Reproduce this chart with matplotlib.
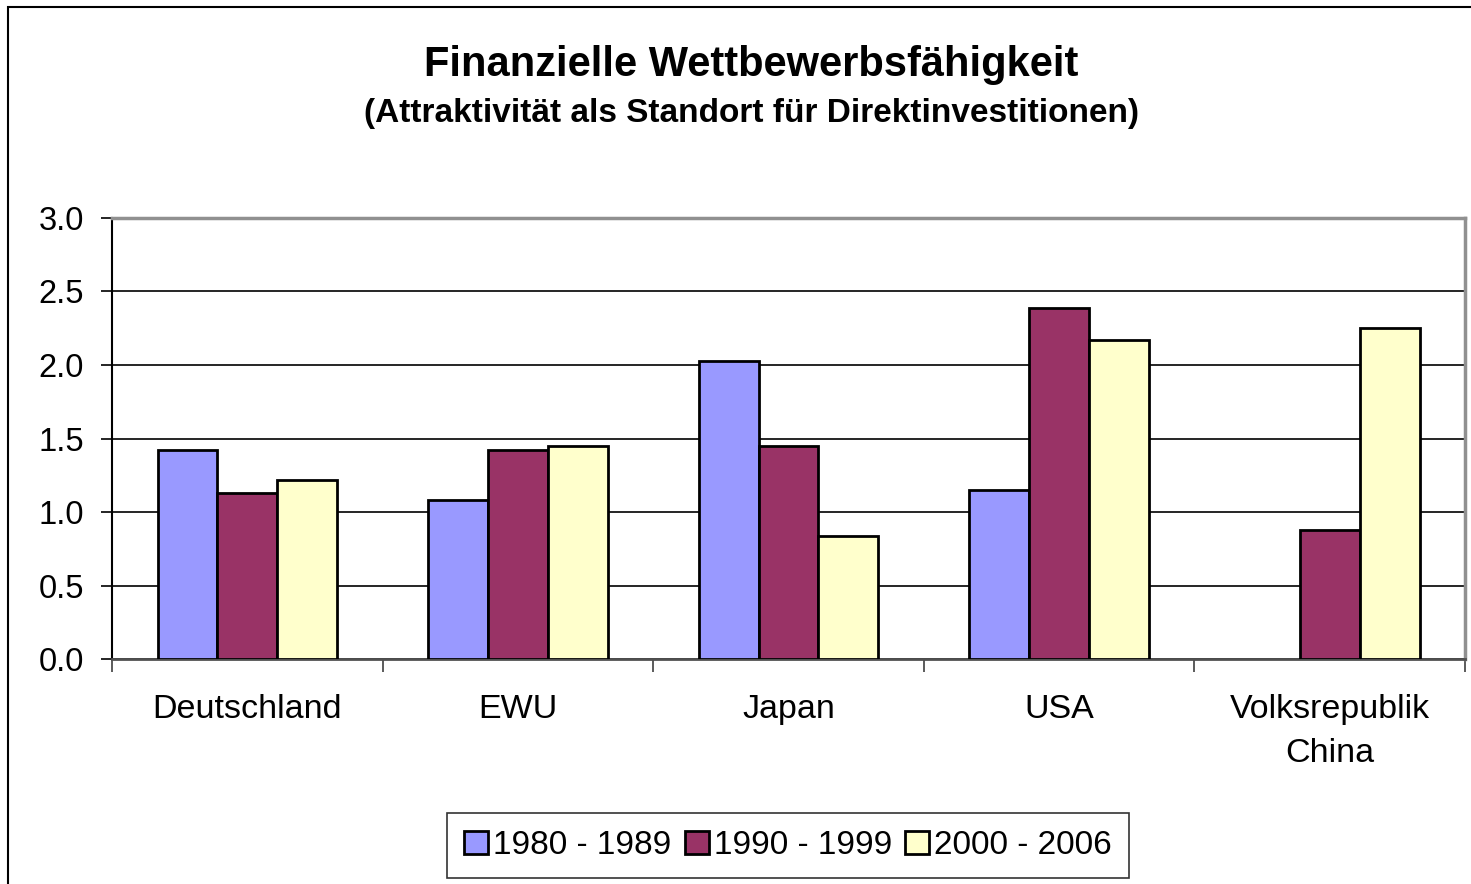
import matplotlib.pyplot as plt
from matplotlib.patches import Rectangle
import numpy as np

plt.rcParams['font.family'] = ['Liberation Sans', 'DejaVu Sans']

# data
countries = ['Deutschland', 'EWU', 'Japan', 'USA', 'Volksrepublik\nChina']
periods = ['1980 - 1989', '1990 - 1999', '2000 - 2006']
v_1980s = [1.42, 1.08, 2.03, 1.15, np.nan]
v_1990s = [1.13, 1.42, 1.45, 2.39, 0.88]
v_2000s = [1.22, 1.45, 0.84, 2.17, 2.25]
colors = ['#9999FF', '#993366', '#FFFFCC']

fig = plt.figure(figsize=(14.71, 8.84), dpi=100)
ax = fig.add_axes([0.0761, 0.2545, 0.9199, 0.4989])

x = np.arange(len(countries))
w = 0.221
for i, (vals, c, lab) in enumerate(zip([v_1980s, v_1990s, v_2000s], colors, periods)):
    ax.bar(x + (i - 1) * w, vals, w, color=c, edgecolor='black', linewidth=2,
           label=lab, zorder=3)

ax.set_xlim(-0.5, len(countries) - 0.5)
ax.set_ylim(0, 3.0)
ax.set_yticks(np.arange(0, 3.01, 0.5))
ax.set_yticklabels([f'{v:.1f}' for v in np.arange(0, 3.01, 0.5)], fontsize=23.5)
ax.yaxis.grid(True, color='black', linewidth=1.2, zorder=0)

ax.set_xticks(x)
ax.set_xticklabels(countries, fontsize=24.5, linespacing=1.55)
ax.set_xticks(np.arange(-0.5, len(countries), 1), minor=True)
ax.tick_params(axis='x', which='major', length=0, pad=25)
ax.tick_params(axis='x', which='minor', length=9, width=1.2, color='#404040')
ax.tick_params(axis='y', length=8, width=1.2, pad=12)

ax.spines['left'].set_color('black')
ax.spines['left'].set_linewidth(1.5)
ax.spines['bottom'].set_color('#505050')
ax.spines['bottom'].set_linewidth(2)
for s in ['top', 'right']:
    ax.spines[s].set_color('#909090')
    ax.spines[s].set_linewidth(2.5)

fig.text(0.511, 0.926, 'Finanzielle Wettbewerbsfähigkeit', ha='center', va='center',
         fontsize=30, fontweight='bold')
fig.text(0.511, 0.872, '(Attraktivität als Standort für Direktinvestitionen)', ha='center',
         va='center', fontsize=24, fontweight='bold')

leg = fig.legend(loc='center', bbox_to_anchor=(0.5357, 0.0435), ncol=3, fontsize=24,
                 frameon=True, fancybox=False, edgecolor='black', handlelength=0.72,
                 handleheight=0.72, handletextpad=0.15, columnspacing=0.4,
                 borderpad=0.5)
leg.get_frame().set_linewidth(1.2)

# outer chart border
fig.patches.append(Rectangle((8 / 1471, -0.05), 1.2, 0.05 + 1 - 7 / 884,
                             transform=fig.transFigure, fill=False,
                             edgecolor='black', linewidth=1.5))

fig.savefig('out.png', dpi=100)
